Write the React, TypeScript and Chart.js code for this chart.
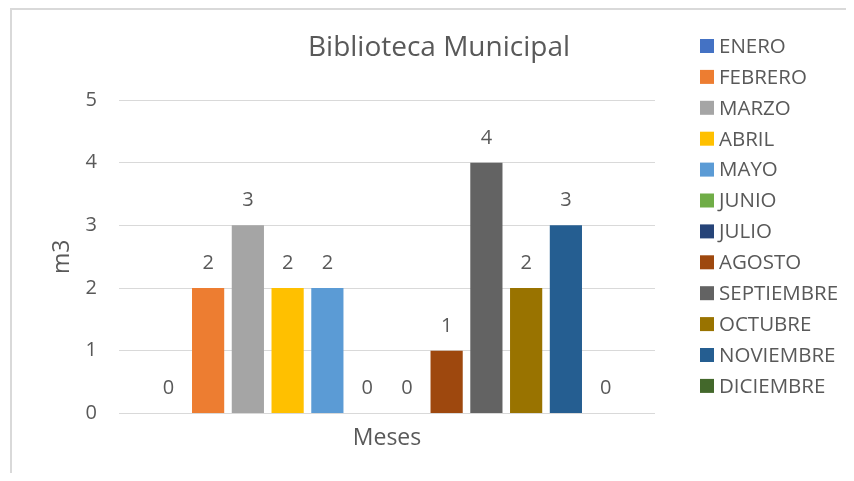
import React, { useEffect, useRef } from "react";
import { Chart, registerables } from "chart.js";

Chart.register(...registerables);

const months = ["ENERO", "FEBRERO", "MARZO", "ABRIL", "MAYO", "JUNIO", "JULIO", "AGOSTO", "SEPTIEMBRE", "OCTUBRE", "NOVIEMBRE", "DICIEMBRE"];
const values = [0, 2, 3, 2, 2, 0, 0, 1, 4, 2, 3, 0];
const colors = ["#4472C4", "#ED7D31", "#A5A5A5", "#FFC000", "#5B9BD5", "#70AD47", "#264478", "#9E480E", "#636363", "#997300", "#255E91", "#43682B"];
const categories = [""];
const yTicks = [0, 1, 2, 3, 4, 5];
const chartTitle = "Biblioteca Municipal";
const xTitle = "Meses";
const yTitle = "m3";

const FONT = "'Open Sans', sans-serif";
const TEXT = "#595959";

const overlay = {
  id: "overlay",
  afterDatasetsDraw(chart: any) {
    const ctx = chart.ctx;
    ctx.save();
    ctx.fillStyle = TEXT;
    ctx.font = `20px ${FONT}`;
    ctx.textAlign = "center";
    ctx.textBaseline = "alphabetic";
    chart.data.datasets.forEach((ds: any, i: number) => {
      const meta = chart.getDatasetMeta(i);
      const el = meta.data[0];
      if (!el) return;
      ctx.fillText(String(ds.data[0]), el.x, el.y - 19);
    });
    ctx.restore();
  },
  afterDraw(chart: any) {
    const ctx = chart.ctx;
    ctx.save();
    ctx.fillStyle = TEXT;
    ctx.font = `28px ${FONT}`;
    ctx.textAlign = "center";
    ctx.textBaseline = "middle";
    ctx.fillText(chartTitle, 427, 38);
    ctx.font = `20.5px ${FONT}`;
    ctx.textAlign = "left";
    chart.data.datasets.forEach((ds: any, i: number) => {
      const cy = 36 + i * 30.9;
      ctx.fillStyle = ds.backgroundColor;
      ctx.fillRect(688, cy - 7, 14, 14);
      ctx.fillStyle = TEXT;
      ctx.fillText(ds.label, 707, cy + 1);
    });
    ctx.restore();
  },
};

export default function App() {
  const ref = useRef<HTMLCanvasElement>(null);
  useEffect(() => {
    if (!ref.current) return;
    Chart.defaults.font.family = FONT;
    const chart = new Chart(ref.current, {
      type: "bar",
      data: {
        labels: categories,
        datasets: months.map((m, i) => ({
          label: m,
          data: [values[i]],
          backgroundColor: colors[i],
          categoryPercentage: 0.89,
          barPercentage: 0.81,
        })),
      },
      options: {
        animation: false,
        responsive: false,
        devicePixelRatio: 1,
        layout: { padding: { left: 36, right: 191, top: 90, bottom: 21 } },
        plugins: {
          legend: { display: false },
          title: { display: false },
          tooltip: { enabled: false },
        },
        scales: {
          x: {
            grid: { display: false, drawTicks: false },
            border: { display: false },
            ticks: { display: false },
            title: {
              display: true,
              text: xTitle,
              color: TEXT,
              font: { size: 23, family: FONT },
              padding: { top: 11, bottom: 0 },
            },
          },
          y: {
            min: yTicks[0],
            max: yTicks[yTicks.length - 1],
            afterFit: (scale: any) => {
              scale.width = 71;
            },
            ticks: { stepSize: 1, color: TEXT, font: { size: 20, family: FONT }, padding: 22 },
            grid: { color: "#d9d9d9", lineWidth: 1, drawTicks: false },
            border: { display: false },
            title: {
              display: true,
              text: yTitle,
              color: TEXT,
              font: { size: 23, family: FONT },
              padding: { top: 1, bottom: 12 },
            },
          },
        },
      },
      plugins: [overlay],
    });
    return () => chart.destroy();
  }, []);
  return (
    <div style={{ marginLeft: 2, borderLeft: "2px solid #d9d9d9", borderTop: "2px solid #d9d9d9", height: 463, overflow: "hidden" }}>
      <canvas ref={ref} width={834} height={463} style={{ display: "block" }} />
    </div>
  );
}
